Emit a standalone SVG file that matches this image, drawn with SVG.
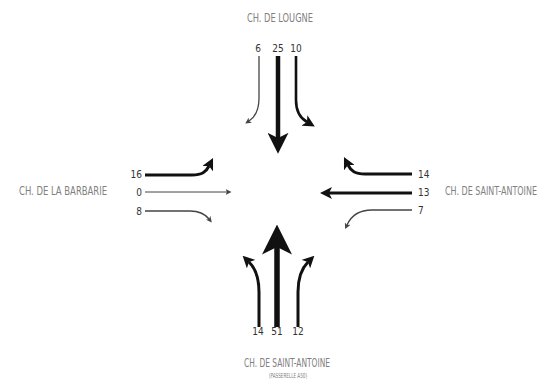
<svg xmlns="http://www.w3.org/2000/svg" width="548" height="381" viewBox="0 0 548 381">
  <style>
    .road { font-family: 'DejaVu Sans Condensed', 'DejaVu Sans', sans-serif; font-size: 12.5px; fill: #808080; }
    .sub { font-family: 'DejaVu Sans Condensed', 'DejaVu Sans', sans-serif; font-size: 7px; fill: #808080; }
    .num { font-family: 'DejaVu Sans Condensed', 'DejaVu Sans', sans-serif; font-size: 10px; fill: #333; }
    .flow { fill: none; stroke-linecap: butt; }
    .k { stroke: #111; }
    .g { stroke: #444; }
  </style>
  <defs>
    <marker id="hs" viewBox="0 0 10 10" refX="2.5" refY="5" markerWidth="6" markerHeight="6" markerUnits="userSpaceOnUse" orient="auto">
      <path d="M0,0 L10,5 L0,10 L2.5,5 z" fill="#444"/>
    </marker>
    <marker id="hm" viewBox="0 0 10 10" refX="2.5" refY="5" markerWidth="12" markerHeight="12" markerUnits="userSpaceOnUse" orient="auto">
      <path d="M0,0 L10,5 L0,10 L2.5,5 z" fill="#111"/>
    </marker>
    <marker id="hl" viewBox="0 0 10 10" refX="2.5" refY="5" markerWidth="21" markerHeight="21" markerUnits="userSpaceOnUse" orient="auto">
      <path d="M0,0 L10,5 L0,10 L2.5,5 z" fill="#111"/>
    </marker>
    <marker id="hx" viewBox="0 0 10 10" refX="2.5" refY="5" markerWidth="30" markerHeight="30" markerUnits="userSpaceOnUse" orient="auto">
      <path d="M0,0 L10,5 L0,10 L2.5,5 z" fill="#111"/>
    </marker>
  </defs>

  <g id="north">
    <text class="road" x="280" y="22" text-anchor="middle" textLength="66" lengthAdjust="spacingAndGlyphs">CH. DE LOUGNE</text>
    <text class="num" x="258" y="52" text-anchor="middle">6</text>
    <text class="num" x="278" y="52" text-anchor="middle">25</text>
    <text class="num" x="296" y="52" text-anchor="middle">10</text>
  </g>
  <g id="west">
    <text class="road" x="63" y="195" text-anchor="middle" textLength="88" lengthAdjust="spacingAndGlyphs">CH. DE LA BARBARIE</text>
    <text class="num" x="142" y="178" text-anchor="end">16</text>
    <text class="num" x="142" y="196" text-anchor="end">0</text>
    <text class="num" x="142" y="215" text-anchor="end">8</text>
  </g>
  <g id="east">
    <text class="road" transform="translate(537,195) scale(0.65,1)" x="0" y="0" text-anchor="end" textLength="141.5" lengthAdjust="spacingAndGlyphs">CH. DE SAINT-ANTOINE</text>
    <text class="num" x="418" y="178">14</text>
    <text class="num" x="418" y="196">13</text>
    <text class="num" x="418" y="214">7</text>
  </g>
  <g id="south">
    <text class="road" x="287" y="367" text-anchor="middle" textLength="86" lengthAdjust="spacingAndGlyphs">CH. DE SAINT-ANTOINE</text>
    <text class="sub" x="288" y="378" text-anchor="middle" textLength="38" lengthAdjust="spacingAndGlyphs">(PASSERELLE A50)</text>
    <text class="num" x="258" y="335" text-anchor="middle">14</text>
    <text class="num" x="277" y="335" text-anchor="middle">51</text>
    <text class="num" x="298" y="335" text-anchor="middle">12</text>
  </g>

  <g id="connectors">
    <!-- north approach -->
    <path class="flow g" stroke-width="1.3" d="M259,56 V98 C259,111 255,117 249,121" marker-end="url(#hs)"/>
    <path class="flow k" stroke-width="4.5" d="M278,56 V138" marker-end="url(#hl)"/>
    <path class="flow k" stroke-width="2.6" d="M296,56 V100 C296,112 300,118 307,122" marker-end="url(#hm)"/>
    <!-- south approach -->
    <path class="flow k" stroke-width="3" d="M259,327 V292 C259,277 255,268 249,262" marker-end="url(#hm)"/>
    <path class="flow k" stroke-width="5.5" d="M277,327 V247" marker-end="url(#hx)"/>
    <path class="flow k" stroke-width="3" d="M298,327 V292 C298,277 302,268 308,262" marker-end="url(#hm)"/>
    <!-- west approach -->
    <path class="flow k" stroke-width="3" d="M145,175 H192 C202,175 206,172 209,166" marker-end="url(#hm)"/>
    <path class="flow g" stroke-width="1" d="M145,192 H227" marker-end="url(#hs)"/>
    <path class="flow g" stroke-width="1.5" d="M145,211 H190 C199,211 205,214 209,219" marker-end="url(#hs)"/>
    <!-- east approach -->
    <path class="flow k" stroke-width="3" d="M412,174 H365 C355,174 351,171 348,165" marker-end="url(#hm)"/>
    <path class="flow k" stroke-width="3" d="M412,193 H329" marker-end="url(#hm)"/>
    <path class="flow g" stroke-width="1.3" d="M412,210 H372 C358,210 351,216 347,225" marker-end="url(#hs)"/>
  </g>
</svg>
